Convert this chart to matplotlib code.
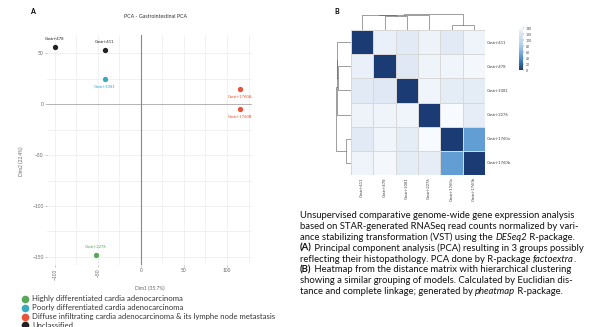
import re
import numpy as np
import matplotlib
matplotlib.use("Agg")
import matplotlib.pyplot as plt
from matplotlib.colors import LinearSegmentedColormap
from matplotlib.lines import Line2D

plt.rcParams["font.family"] = ["Lato", "DejaVu Sans"]

# PCA data (panel A)
pca_names = ["Gastri-478", "Gastri-411", "Gastri-1081", "Gastri-1760A", "Gastri-1760B", "Gastri-2276"]
pca_dim1 = [-100, -42, -42, 115, 115, -52]
pca_dim2 = [56, 53, 25, 15, -5, -148]
pca_group = [3, 3, 1, 2, 2, 0]
label_above = [True, True, False, False, False, True]

group_names = ["Highly differentiated cardia adenocarcinoma",
               "Poorly differentiated cardia adenocarcinoma",
               "Diffuse infiltrating cardia adenocarcinoma & its lymphe node metastasis",
               "Unclassified"]
group_colors = ["#5aa85a", "#3aa9c2", "#e6553a", "#222222"]

# distance matrix (panel B)
hm_names = ["Gastri-411", "Gastri-478", "Gastri-1081", "Gastri-2276", "Gastri-1760a", "Gastri-1760b"]
dist_matrix = np.array([
    [0, 131, 126, 133, 126, 134],
    [131, 0, 123, 134, 135, 137],
    [126, 123, 0, 135, 127, 127],
    [133, 134, 135, 0, 139, 128],
    [126, 135, 127, 139, 0, 48],
    [134, 137, 127, 128, 48, 0],
])
cbar_ticks = [0, 20, 40, 60, 80, 100, 120, 140]

# **bold**, _italic_
caption = [
    "Unsupervised comparative genome-wide gene expression analysis",
    "based on STAR-generated RNASeq read counts normalized by vari-",
    "ance stabilizing transformation (VST) using the _DESeq2_ R-package.",
    "**(A)** Principal component analysis (PCA) resulting in 3 groups possibly",
    "reflecting their histopathology. PCA done by R-package _factoextra_.",
    "**(B)** Heatmap from the distance matrix with hierarchical clustering",
    "showing a similar grouping of models. Calculated by Euclidian dis-",
    "tance and complete linkage; generated by _pheatmap_ R-package.",
]

W, H = 607, 327
fig = plt.figure(figsize=(W / 100, H / 100), dpi=100)
renderer = fig.canvas.get_renderer()


def box(x0, y0, x1, y1):
    # pixel box -> figure fraction
    return [x0 / W, 1 - y1 / H, (x1 - x0) / W, (y1 - y0) / H]


# ---------- panel A ----------
ax = fig.add_axes(box(47, 35, 252, 265))
ax.set_xlim(-109, 129)
ax.set_ylim(-158, 68)
for s in ax.spines.values():
    s.set_visible(False)
ax.set_xticks([-100, -50, 0, 50, 100])
ax.set_yticks([50, 0, -50, -100, -150])
ax.set_xticks(np.arange(-100, 130, 25), minor=True)
ax.set_yticks(np.arange(-150, 68, 25), minor=True)
ax.grid(True, which="both", color="#ececec", lw=0.5)
ax.tick_params(which="minor", length=0)
ax.tick_params(which="major", length=1.5, width=0.4, color="#999999",
               labelsize=3.5, labelcolor="#666666", pad=1)
ax.axhline(0, color="#aaaaaa", lw=0.6)
ax.axvline(0, color="#888888", lw=0.8)
for t, v in zip(ax.get_xticklabels(), [-100, -50, 0, 50, 100]):
    if v < 0:
        t.set_rotation(90)
for x, y, nm, g, up in zip(pca_dim1, pca_dim2, pca_names, pca_group, label_above):
    c = group_colors[g]
    ax.plot(x, y, marker="o", ms=2.8, color=c, mec=c)
    ax.text(x, y + (6 if up else -6), nm, color=c, fontsize=3,
            ha="center", va="bottom" if up else "top")
ax.set_xlabel("Dim1 (35.7%)", fontsize=3.5, color="#666666", labelpad=4)
ax.set_ylabel("Dim2 (22.4%)", fontsize=3.5, color="#666666")
ax.yaxis.set_label_coords(-0.11, 0.45)
fig.text(155 / W, 1 - 17 / H, "PCA - Gastrointestinal PCA", fontsize=3.8,
         ha="center", va="center", color="#333333")
fig.text(32 / W, 1 - 11 / H, "A", fontsize=5, weight="bold", ha="center", va="center")

# legend
for i, (nm, c) in enumerate(zip(group_names, group_colors)):
    yy = 1 - (299 + 8.8 * i) / H
    fig.add_artist(Line2D([25 / W], [yy], marker="o", ms=4.5, color=c,
                          mec=c, transform=fig.transFigure))
    fig.text(32 / W, yy, nm, color="#333333", fontsize=5.6, va="center")

# ---------- panel B ----------
n = len(hm_names)
cmap = LinearSegmentedColormap.from_list(
    "dist", [(0, "#1b3b74"), (0.3, "#5595cf"), (0.6, "#b4d0ea"),
             (0.9, "#e2eaf5"), (1, "#f8fbff")])
axh = fig.add_axes(box(351, 30, 485, 175))
mesh = axh.pcolormesh(dist_matrix, cmap=cmap, vmin=0, vmax=140,
                      edgecolor="#d8d8d8", lw=0.4)
axh.set_xlim(0, n)
axh.set_ylim(n, 0)
for s in axh.spines.values():
    s.set_visible(False)
axh.set_xticks(np.arange(n) + 0.5)
axh.set_yticks(np.arange(n) + 0.5)
axh.set_xticklabels(hm_names, rotation=90, fontsize=3, color="#444444")
axh.set_yticklabels(hm_names, fontsize=3, color="#444444")
axh.yaxis.tick_right()
axh.tick_params(length=0, pad=1.5)


def complete_linkage(D):
    clusters = {i: [i] for i in range(len(D))}
    pos = {i: i + 0.5 for i in range(len(D))}
    hgt = {i: 0.0 for i in range(len(D))}
    merges = []
    nid = len(D)
    while len(clusters) > 1:
        keys = list(clusters)
        best = None
        for a in keys:
            for b in keys:
                if b <= a:
                    continue
                d = D[np.ix_(clusters[a], clusters[b])].max()
                if best is None or d < best[0]:
                    best = (d, a, b)
        d, a, b = best
        merges.append((pos[a], hgt[a], pos[b], hgt[b], d))
        clusters[nid] = clusters.pop(a) + clusters.pop(b)
        pos[nid] = (pos[a] + pos[b]) / 2
        hgt[nid] = d
        nid += 1
    return merges


merges = complete_linkage(dist_matrix.astype(float))
top_h = max(m[4] for m in merges)

axt = fig.add_axes(box(351, 14, 485, 30))
axl = fig.add_axes(box(336, 30, 351, 175))
for xa, ha, xb, hb, d in merges:
    axt.plot([xa, xa, xb, xb], [ha, d, d, hb], color="#555555", lw=0.4)
    axl.plot([ha, d, d, hb], [xa, xa, xb, xb], color="#555555", lw=0.4)
axt.set_xlim(0, n)
axt.set_ylim(0, top_h * 1.02)
axl.set_ylim(n, 0)
axl.set_xlim(top_h * 1.02, 0)
for a in (axt, axl):
    a.axis("off")

cax = fig.add_axes(box(519, 28, 523, 70))
cb = fig.colorbar(mesh, cax=cax, ticks=cbar_ticks)
cb.outline.set_visible(False)
cb.ax.tick_params(labelsize=2.5, length=1, width=0.3, pad=1, colors="#444444")
fig.text(337 / W, 1 - 12 / H, "B", fontsize=5, weight="bold", ha="center", va="center")

# caption, drawn piece by piece for bold / italic parts
for i, line in enumerate(caption):
    x = 300
    y = 1 - (218 + 10.9 * i) / H
    for part in re.split(r"(\*\*.*?\*\*|_.*?_)", line):
        if not part:
            continue
        kw = {}
        if part.startswith("**"):
            part, kw = part[2:-2], {"weight": "bold"}
        elif part.startswith("_"):
            part, kw = part[1:-1], {"style": "italic"}
        t = fig.text(x / W, y, part, fontsize=6.8, color="#111111",
                     va="baseline", **kw)
        x = t.get_window_extent(renderer).x1

fig.savefig("out.png", dpi=100)
